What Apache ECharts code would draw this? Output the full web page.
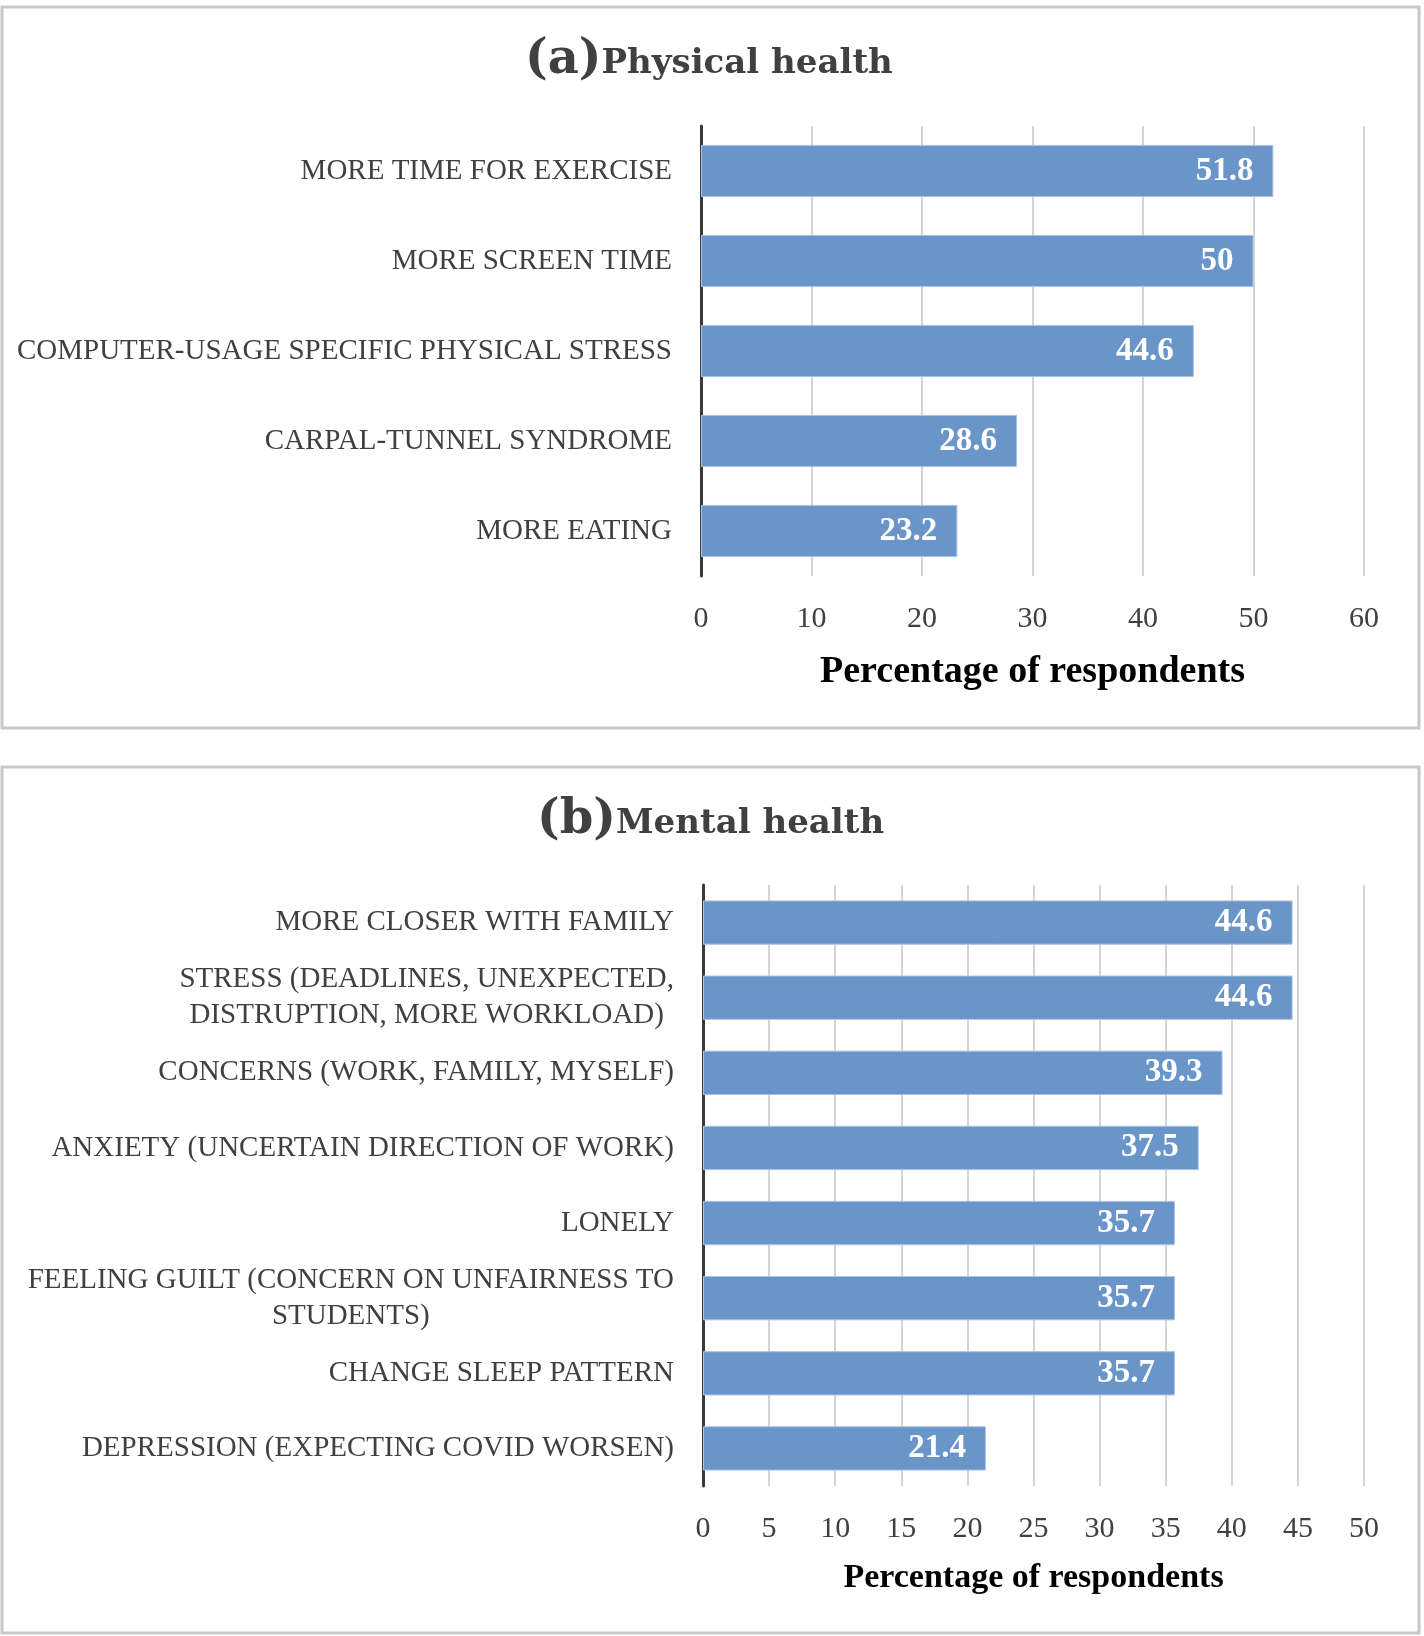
<!DOCTYPE html>
<html><head><meta charset="utf-8">
<script src="https://cdn.jsdelivr.net/npm/echarts@6/dist/echarts.min.js"></script>
<style>html,body{margin:0;padding:0;background:#fff}#c{width:1424px;height:1636px}</style>
</head><body><div id="c"></div>
<script>
const physicalCategories = ['MORE TIME FOR EXERCISE', 'MORE SCREEN TIME', 'COMPUTER-USAGE SPECIFIC PHYSICAL STRESS', 'CARPAL-TUNNEL SYNDROME', 'MORE EATING'];
const physicalValues = [51.8, 50, 44.6, 28.6, 23.2];
const mentalCategories = ['MORE CLOSER WITH FAMILY', 'STRESS (DEADLINES, UNEXPECTED,\nDISTRUPTION, MORE WORKLOAD)', 'CONCERNS (WORK, FAMILY, MYSELF)', 'ANXIETY (UNCERTAIN DIRECTION OF WORK)', 'LONELY', 'FEELING GUILT (CONCERN ON UNFAIRNESS TO\nSTUDENTS)', 'CHANGE SLEEP PATTERN', 'DEPRESSION (EXPECTING COVID WORSEN)'];
const mentalValues = [44.6, 44.6, 39.3, 37.5, 35.7, 35.7, 35.7, 21.4];
const physicalAxis = { min: 0, max: 60, interval: 10 };
const mentalAxis = { min: 0, max: 50, interval: 5 };
const axisName = 'Percentage of respondents';

const SERIF = '"Liberation Serif", "DejaVu Serif", serif';
const TITLE_FONT = '"DejaVu Serif", "Liberation Serif", serif';
const barColor = '#6a95c8';
const textColor = '#404040';

function catLabel(v) {
  return v.split('\n').map(s => '{c|' + s + '}').join('\n');
}

const chart = echarts.init(document.getElementById('c'), null, { renderer: 'canvas' });

function xAxisCfg(idx, cfg, nameSize, nameGap) {
  return {
    type: 'value', gridIndex: idx, min: cfg.min, max: cfg.max, interval: cfg.interval,
    name: axisName, nameLocation: 'middle', nameGap: nameGap,
    nameTextStyle: { fontFamily: SERIF, fontWeight: 'bold', fontSize: nameSize, color: '#000' },
    axisLine: { show: false }, axisTick: { show: false },
    axisLabel: { fontFamily: SERIF, fontSize: 30, color: textColor, margin: 28 },
    splitLine: { show: true, lineStyle: { color: '#d4d4d4', width: 2 } }
  };
}
function yAxisCfg(idx, cats) {
  return {
    type: 'category', gridIndex: idx, data: cats, inverse: true,
    axisLine: { show: true, lineStyle: { color: '#3a3a3a', width: 3 } },
    axisTick: { show: false },
    axisLabel: {
      margin: 29, formatter: catLabel, lineHeight: 36,
      rich: { c: { align: 'center', fontFamily: SERIF, fontSize: 29, color: textColor, lineHeight: 36 } }
    }
  };
}
function barSeries(idx, vals, gap) {
  return {
    type: 'bar', xAxisIndex: idx, yAxisIndex: idx, data: vals, barCategoryGap: gap,
    itemStyle: { color: barColor, borderColor: '#a9c4e4', borderWidth: 1 },
    label: { show: true, position: 'insideRight', distance: 20, color: '#fff',
      fontFamily: SERIF, fontWeight: 'bold', fontSize: 33 }
  };
}

chart.setOption({
  animation: false,
  backgroundColor: '#fff',
  title: [
    { text: '{p|(a)}{t|Physical health}', left: 520, top: 32,
      textStyle: { rich: {
        p: { fontFamily: TITLE_FONT, fontSize: 48, fontWeight: 'bold', color: textColor },
        t: { fontFamily: TITLE_FONT, fontSize: 34, fontWeight: 'bold', color: textColor, padding: [6, 0, 0, 0] } } } },
    { text: '{p|(b)}{t|Mental health}', left: 532, top: 792,
      textStyle: { rich: {
        p: { fontFamily: TITLE_FONT, fontSize: 48, fontWeight: 'bold', color: textColor },
        t: { fontFamily: TITLE_FONT, fontSize: 34, fontWeight: 'bold', color: textColor, padding: [6, 0, 0, 0] } } } }
  ],
  graphic: [
    { type: 'rect', shape: { x: 2, y: 7, width: 1417, height: 721 }, style: { fill: 'none', stroke: '#c8c8c8', lineWidth: 3 } },
    { type: 'rect', shape: { x: 2, y: 767, width: 1417, height: 866 }, style: { fill: 'none', stroke: '#c8c8c8', lineWidth: 3 } }
  ],
  grid: [
    { left: 701, width: 663, top: 126, height: 450 },
    { left: 703, width: 661, top: 885, height: 601 }
  ],
  xAxis: [xAxisCfg(0, physicalAxis, 38, 77), xAxisCfg(1, mentalAxis, 34, 75)],
  yAxis: [yAxisCfg(0, physicalCategories), yAxisCfg(1, mentalCategories)],
  series: [barSeries(0, physicalValues, '42%'), barSeries(1, mentalValues, '41%')]
});
</script></body></html>
